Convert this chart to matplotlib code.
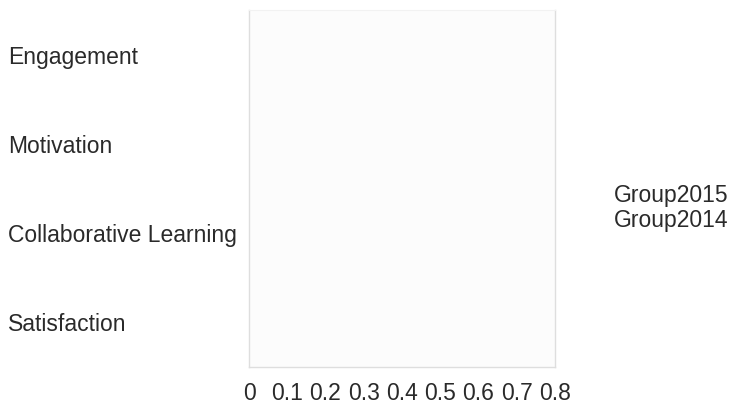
import matplotlib
matplotlib.use("Agg")
import matplotlib.pyplot as plt
import numpy as np

categories = ["Engagement", "Motivation", "Collaborative Learning", "Satisfaction"]
series_names = ["Group2015", "Group2014"]
group2015 = [0.0, 0.0, 0.0, 0.0]
group2014 = [0.0, 0.0, 0.0, 0.0]
x_ticks = [0, 0.1, 0.2, 0.3, 0.4, 0.5, 0.6, 0.7, 0.8]
x_tick_labels = ["0", "0.1", "0.2", "0.3", "0.4", "0.5", "0.6", "0.7", "0.8"]

plt.rcParams['font.family'] = ['Liberation Sans', 'DejaVu Sans']
FS = 16.5

fig = plt.figure(figsize=(7.32, 4.07), dpi=100)
W, H = 732, 407
ax = fig.add_axes([249 / W, (H - 367) / H, (555 - 249) / W, (367 - 10) / H])
ax.set_facecolor("#fcfcfc")

y = np.arange(len(categories))
h = 0.35
ax.barh(y - h / 2, group2015, height=h, color="#5b9bd5", label=series_names[0])
ax.barh(y + h / 2, group2014, height=h, color="#ed7d31", label=series_names[1])

ax.set_ylim(len(categories) - 0.5, -0.5)
ax.set_xlim(0, 0.8)
ax.set_yticks(y)
ax.set_yticklabels(categories, fontsize=FS, color="#2a2a2a", ha="left")
ax.tick_params(axis="y", length=0, pad=(249 - 8) * 72 / 100)
ax.set_xticks(x_ticks)
ax.set_xticklabels(x_tick_labels, fontsize=FS, color="#2a2a2a")
ax.tick_params(axis="x", length=0, pad=11)

for s in ["left", "right", "bottom"]:
    ax.spines[s].set_color("#dedede")
    ax.spines[s].set_linewidth(1.0)
ax.spines["top"].set_color("#f2f2f2")

leg = fig.legend(loc="center left", bbox_to_anchor=(614 / W, 1 - 208 / H),
                 frameon=False, handlelength=0, handletextpad=0,
                 borderpad=0, borderaxespad=0,
                 fontsize=FS, labelspacing=0.05)
for t in leg.get_texts():
    t.set_color("#2a2a2a")
for hnd in leg.legend_handles:
    hnd.set_visible(False)

fig.savefig("out.png", dpi=100)
